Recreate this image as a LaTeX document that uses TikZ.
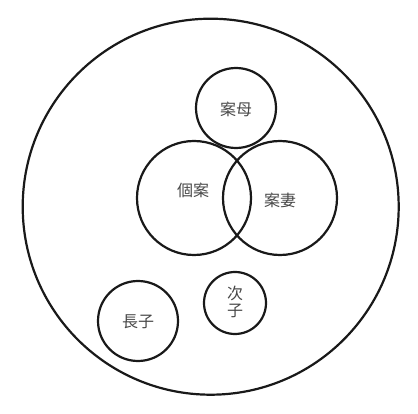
\documentclass[tikz,border=0pt]{standalone}
\usepackage{fontspec}
\newfontfamily\cjk{Noto Sans CJK SC}
\begin{document}
\begin{tikzpicture}[x=1pt,y=-1pt,
  ring/.style={circle,draw=black!90,line width=2.2pt,inner sep=0pt},
  lbl/.style={font=\cjk\fontsize{16}{18}\selectfont,text=black!72}]
\useasboundingbox (0,0) rectangle (418,414);
\node[ring,minimum size=376pt] (all) at (210.7,206.7) {};
\node[ring,minimum size=80pt] (mother) at (236,108) {};
\node[ring,minimum size=114pt] (self) at (194,198) {};
\node[ring,minimum size=114pt] (wife) at (280,198) {};
\node[ring,minimum size=62pt] (second) at (235,303) {};
\node[ring,minimum size=80pt] (eldest) at (138,321) {};
\node[lbl] (tm) at (236,109) {案母};
\node[lbl] (ts) at (193,190) {個案};
\node[lbl] (tw) at (280,200) {案妻};
\node[lbl,align=center] (t2) at (235,302) {次\\[-1pt]子};
\node[lbl] (t1) at (138,322) {長子};
\end{tikzpicture}
\end{document}
